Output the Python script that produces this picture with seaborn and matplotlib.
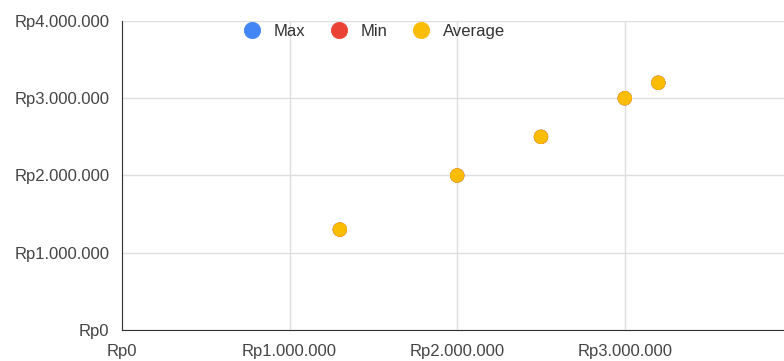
import pandas as pd
import matplotlib.pyplot as plt
import matplotlib.ticker as mticker
import seaborn as sns

# data (Max/Min sit under the Average points)
harga = [1300000, 2000000, 2500000, 3000000, 3200000]
max_vals = [1300000, 2000000, 2500000, 3000000, 3200000]
min_vals = [1300000, 2000000, 2500000, 3000000, 3200000]
avg_vals = [1300000, 2000000, 2500000, 3000000, 3200000]
series_names = ["Max", "Min", "Average"]
colors = ["#4285F4", "#EA4335", "#FBBC04"]

df = pd.concat([
    pd.DataFrame({"x": harga, "y": max_vals, "series": "Max"}),
    pd.DataFrame({"x": harga, "y": min_vals, "series": "Min"}),
    pd.DataFrame({"x": harga, "y": avg_vals, "series": "Average"}),
])

sns.set_style("white")
plt.rcParams['font.family'] = ['Liberation Sans', 'DejaVu Sans']

fig = plt.figure(figsize=(7.84, 3.61), dpi=100)
ax = fig.add_axes([0.1556, 0.0859, 0.8444, 0.856])

sns.scatterplot(data=df, x="x", y="y", hue="series", hue_order=series_names,
                palette=colors, s=95, edgecolor="face", linewidth=0.6, ax=ax)

def rupiah(v, pos):
    return "Rp" + f"{int(v):,}".replace(",", ".")

ax.set_xlim(0, 3950000)
ax.set_ylim(0, 4000000)
ax.xaxis.set_major_locator(mticker.MultipleLocator(1000000))
ax.yaxis.set_major_locator(mticker.MultipleLocator(1000000))
ax.xaxis.set_major_formatter(mticker.FuncFormatter(rupiah))
ax.yaxis.set_major_formatter(mticker.FuncFormatter(rupiah))
ax.grid(True, color="#dddddd", linewidth=1)
ax.set_axisbelow(True)
ax.tick_params(axis="both", length=0, labelsize=12, labelcolor="#444444")
ax.tick_params(axis="x", pad=10)
ax.tick_params(axis="y", pad=9)
ax.set_xlabel("")
ax.set_ylabel("")

for side in ["top", "right"]:
    ax.spines[side].set_visible(False)
ax.spines["left"].set_color("#333333")
ax.spines["bottom"].set_color("#333333")

handles, labels = ax.get_legend_handles_labels()
ax.legend(handles, labels, ncol=3, frameon=False, loc="center",
          bbox_to_anchor=(0.375, 0.965), fontsize=12, markerscale=1.2,
          handletextpad=0.3, columnspacing=1.0, labelcolor="#333333")

fig.savefig("out.png", dpi=100)
